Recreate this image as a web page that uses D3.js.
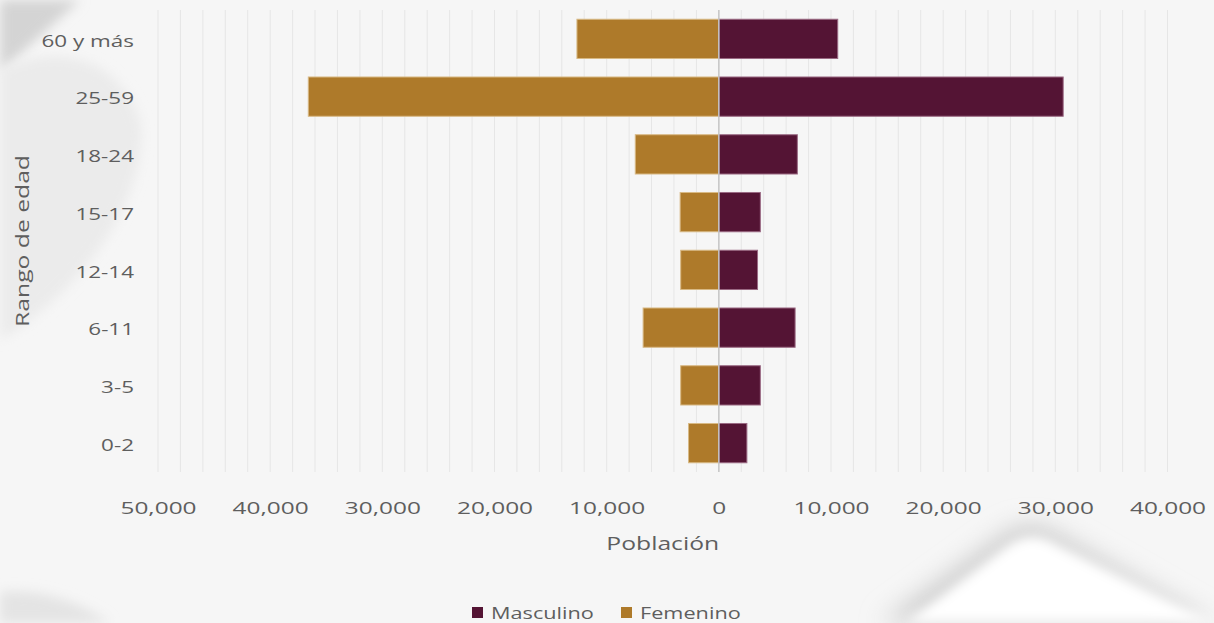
<!DOCTYPE html>
<html>
<head>
<meta charset="utf-8">
<script src="https://cdn.jsdelivr.net/npm/d3@7"></script>
<style>
  html, body { margin: 0; padding: 0; background: #f6f6f6; }
  svg { display: block; }
  text { font-family: "Open Sans", "DejaVu Sans", sans-serif; fill: #5e5e5e; }
</style>
</head>
<body>
<svg id="chart" width="1214" height="623"></svg>
<script>
// ---- Data ----
const categories = ["60 y más", "25-59", "18-24", "15-17", "12-14", "6-11", "3-5", "0-2"];
const masculino  = [10600, 30700, 7000, 3700, 3450, 6800, 3700, 2500];
const femenino   = [12650, 36600, 7450, 3450, 3400, 6750, 3400, 2700];
const xTickValues = [-50000, -40000, -30000, -20000, -10000, 0, 10000, 20000, 30000, 40000];
const seriesNames = ["Masculino", "Femenino"];
const seriesColors = ["#541434", "#AE7A2A"];

// ---- Layout ----
const W = 1214, H = 623;
const pLeft = 158, pRight = 1167.5, pTop = 10, pBottom = 472;
const SX = 1.3;   // horizontal text stretch seen in the reference
const SXT = 1.48; // x tick labels appear wider still

const svg = d3.select("#chart");

// ---- Background decoration ----
const defs = svg.append("defs");
const blur = defs.append("filter").attr("id", "blur").attr("x", "-50%").attr("y", "-50%").attr("width", "200%").attr("height", "200%");
blur.append("feGaussianBlur").attr("stdDeviation", 6);
const blur2 = defs.append("filter").attr("id", "blur2").attr("x", "-50%").attr("y", "-50%").attr("width", "200%").attr("height", "200%");
blur2.append("feGaussianBlur").attr("stdDeviation", 12);

svg.append("rect").attr("width", W).attr("height", H).attr("fill", "#f6f6f6");
svg.append("path").attr("d", "M0,0 L80,0 L0,72 Z").attr("fill", "#d4d4d4").attr("filter", "url(#blur)");
svg.append("path").attr("d", "M0,70 C60,40 120,60 140,120 C150,180 100,280 0,340 Z")
  .attr("fill", "#ebebeb").attr("filter", "url(#blur)");
svg.append("path").attr("d", "M0,592 C40,588 80,602 110,623 L0,623 Z").attr("fill", "#e4e4e4").attr("filter", "url(#blur)");
svg.append("path").attr("d", "M880,623 L995,540 Q1028,512 1060,535 L1214,623 Z")
  .attr("fill", "#cdcdcd").attr("filter", "url(#blur2)");
svg.append("path").attr("d", "M905,623 L1008,545 Q1032,528 1058,545 L1214,623 Z")
  .attr("fill", "#ffffff").attr("filter", "url(#blur)");

// ---- Scales ----
const x = d3.scaleLinear().domain([-50000, 40000]).range([pLeft, pRight]);
const y = d3.scaleBand().domain(categories).range([pTop, pBottom]).paddingInner(0.32).paddingOuter(0.16);

const g = svg.append("g");

// gridlines every 2000
const gridVals = d3.range(-50000, 40001, 2000);
g.selectAll("line.grid").data(gridVals).join("line")
  .attr("class", "grid")
  .attr("x1", d => x(d)).attr("x2", d => x(d))
  .attr("y1", pTop).attr("y2", pBottom)
  .attr("stroke", "#e6e6e6").attr("stroke-width", 1);

// bars
const rows = categories.map((c, i) => ({ c, m: masculino[i], f: femenino[i] }));
g.selectAll("rect.fem").data(rows).join("rect")
  .attr("class", "fem")
  .attr("x", d => x(-d.f)).attr("width", d => x(0) - x(-d.f))
  .attr("y", d => y(d.c)).attr("height", y.bandwidth())
  .attr("fill", seriesColors[1]).attr("stroke", "#d8b985").attr("stroke-width", 1);
g.selectAll("rect.mas").data(rows).join("rect")
  .attr("class", "mas")
  .attr("x", x(0)).attr("width", d => x(d.m) - x(0))
  .attr("y", d => y(d.c)).attr("height", y.bandwidth())
  .attr("fill", seriesColors[0]).attr("stroke", "#9b6a84").attr("stroke-width", 1);

// zero line
g.append("line").attr("x1", x(0)).attr("x2", x(0)).attr("y1", pTop).attr("y2", pBottom)
  .attr("stroke", "#c6c6c6").attr("stroke-width", 1.5);

// ---- Axes ----
const fmt = d3.format(",");
const xAxis = d3.axisBottom(x).tickValues(xTickValues).tickSize(0).tickFormat(d => fmt(Math.abs(d)));
const xg = svg.append("g").attr("transform", `translate(0,${pBottom})`).call(xAxis);
xg.select(".domain").remove();
xg.selectAll("text")
  .attr("y", 0).attr("dy", 0)
  .attr("transform", `translate(0,42) scale(${SXT},1)`)
  .style("font-size", "16.5px").style("fill", "#5e5e5e").style("font-family", "'Open Sans', sans-serif");

const yAxis = d3.axisLeft(y).tickSize(0);
const yg = svg.append("g").attr("transform", `translate(${pLeft},0)`).call(yAxis);
yg.select(".domain").remove();
yg.selectAll("text")
  .attr("x", 0).attr("dy", "0.35em")
  .attr("transform", `translate(-24,2) scale(1.36,1)`)
  .style("font-size", "16.5px").style("fill", "#5e5e5e").style("font-family", "'Open Sans', sans-serif");

// axis titles
svg.append("text")
  .attr("transform", `translate(${(pLeft + pRight) / 2},550) scale(${SX},1)`)
  .attr("text-anchor", "middle").style("font-size", "19px").text("Población");
svg.append("text")
  .attr("transform", `translate(29,${(pTop + pBottom) / 2}) rotate(-90) scale(${SX},1)`)
  .attr("text-anchor", "middle").style("font-size", "19px").text("Rango de edad");

// legend
const legendX = [472, 621];
const lg = svg.append("g");
seriesNames.forEach((name, i) => {
  lg.append("rect").attr("x", legendX[i]).attr("y", 607).attr("width", 11).attr("height", 11)
    .attr("fill", seriesColors[i]);
  lg.append("text").attr("transform", `translate(${legendX[i] + 19},619) scale(1.4,1)`)
    .style("font-size", "15.5px").text(name);
});
</script>
</body>
</html>
